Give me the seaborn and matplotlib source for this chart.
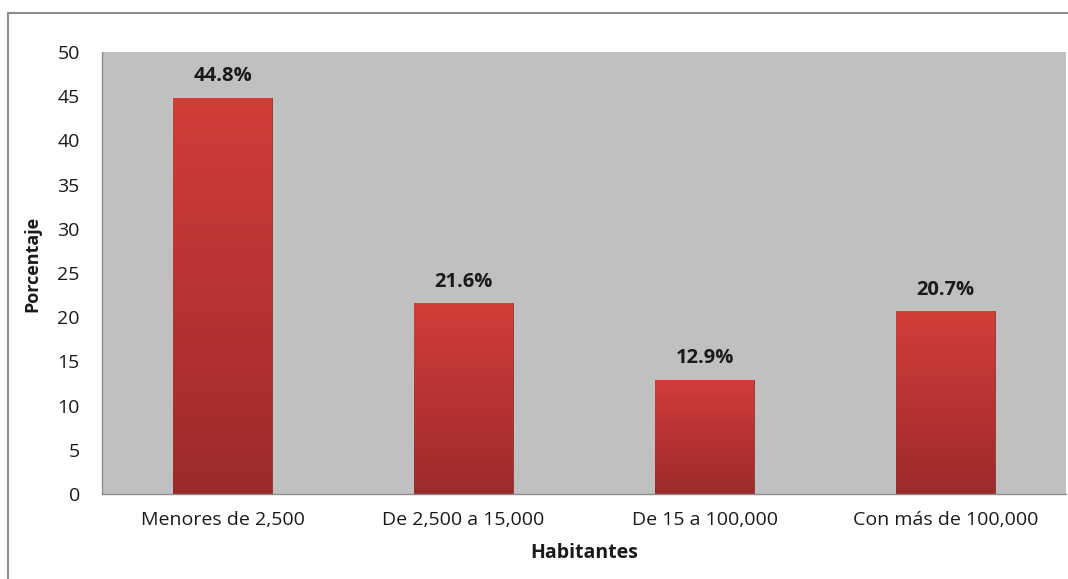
import numpy as np
import pandas as pd
import matplotlib
matplotlib.use("Agg")
import matplotlib.pyplot as plt
import seaborn as sns
from matplotlib.colors import LinearSegmentedColormap
from matplotlib.patches import Rectangle

categories = ["Menores de 2,500", "De 2,500 a 15,000", "De 15 a 100,000", "Con más de 100,000"]
porcentaje = [44.8, 21.6, 12.9, 20.7]
bar_labels = ["44.8%", "21.6%", "12.9%", "20.7%"]

df = pd.DataFrame({"Habitantes": categories, "Porcentaje": porcentaje})

sns.set_style("white")
plt.rcParams["font.family"] = ["Open Sans", "DejaVu Sans"]

fig = plt.figure(figsize=(10.68, 5.79), dpi=100)
ax = fig.add_axes([102 / 1068, 85 / 579, 964 / 1068, 442 / 579])

# outer chart border (cropped on right and bottom in the reference)
fig.patches.append(Rectangle((8 / 1068, -0.1), 1.2, (579 - 13) / 579 + 0.1,
                             transform=fig.transFigure, fill=False,
                             edgecolor="#8c8c8c", linewidth=1.5, zorder=0))

ax.set_facecolor("#c0c0c0")
sns.barplot(data=df, x="Habitantes", y="Porcentaje", color="#c0392f",
            width=0.41, ax=ax, zorder=2)

# vertical gradient fill for each bar
grad = LinearSegmentedColormap.from_list("redgrad", ["#9c2a2a", "#d23d39"])
gradient = np.linspace(0, 1, 256).reshape(-1, 1)
for patch, lab in zip(ax.patches, bar_labels):
    x0, y0 = patch.get_x(), patch.get_y()
    w, h = patch.get_width(), patch.get_height()
    patch.set_facecolor("none")
    patch.set_edgecolor("#8a2626")
    patch.set_linewidth(0.6)
    im = ax.imshow(gradient, cmap=grad, aspect="auto", origin="lower",
                   extent=[x0, x0 + w, y0, y0 + h], zorder=2)
    im.set_clip_path(patch)
    ax.text(x0 + w / 2, y0 + h + 1.3, lab, ha="center", va="bottom",
            fontsize=14.5, fontweight="bold", color="#1a1a1a")

ax.set_xlim(-0.5, 3.5)
ax.set_ylim(0, 50)
ax.set_yticks(range(0, 51, 5))
ax.set_xticks(range(len(categories)))
ax.set_xticks(np.arange(-0.5, 4, 1), minor=True)
ax.tick_params(axis="x", which="major", length=0, pad=12, labelsize=14, colors="#1a1a1a")
ax.tick_params(axis="x", which="minor", length=6, color="#8c8c8c", direction="out")
ax.tick_params(axis="y", length=6, color="#8c8c8c", direction="out", pad=10,
               labelsize=14, colors="#1a1a1a")

for side in ["top", "right"]:
    ax.spines[side].set_visible(False)
for side in ["left", "bottom"]:
    ax.spines[side].set_color("#8c8c8c")
    ax.spines[side].set_linewidth(1)

ax.set_xlabel("Habitantes", fontsize=14, fontweight="bold", labelpad=10)
ax.set_ylabel("Porcentaje", fontsize=13, fontweight="bold", labelpad=10)
ax.yaxis.set_label_coords(-0.063, 0.52)
ax.xaxis.label.set_color("#1a1a1a")
ax.yaxis.label.set_color("#1a1a1a")

fig.savefig("out.png", dpi=100)
